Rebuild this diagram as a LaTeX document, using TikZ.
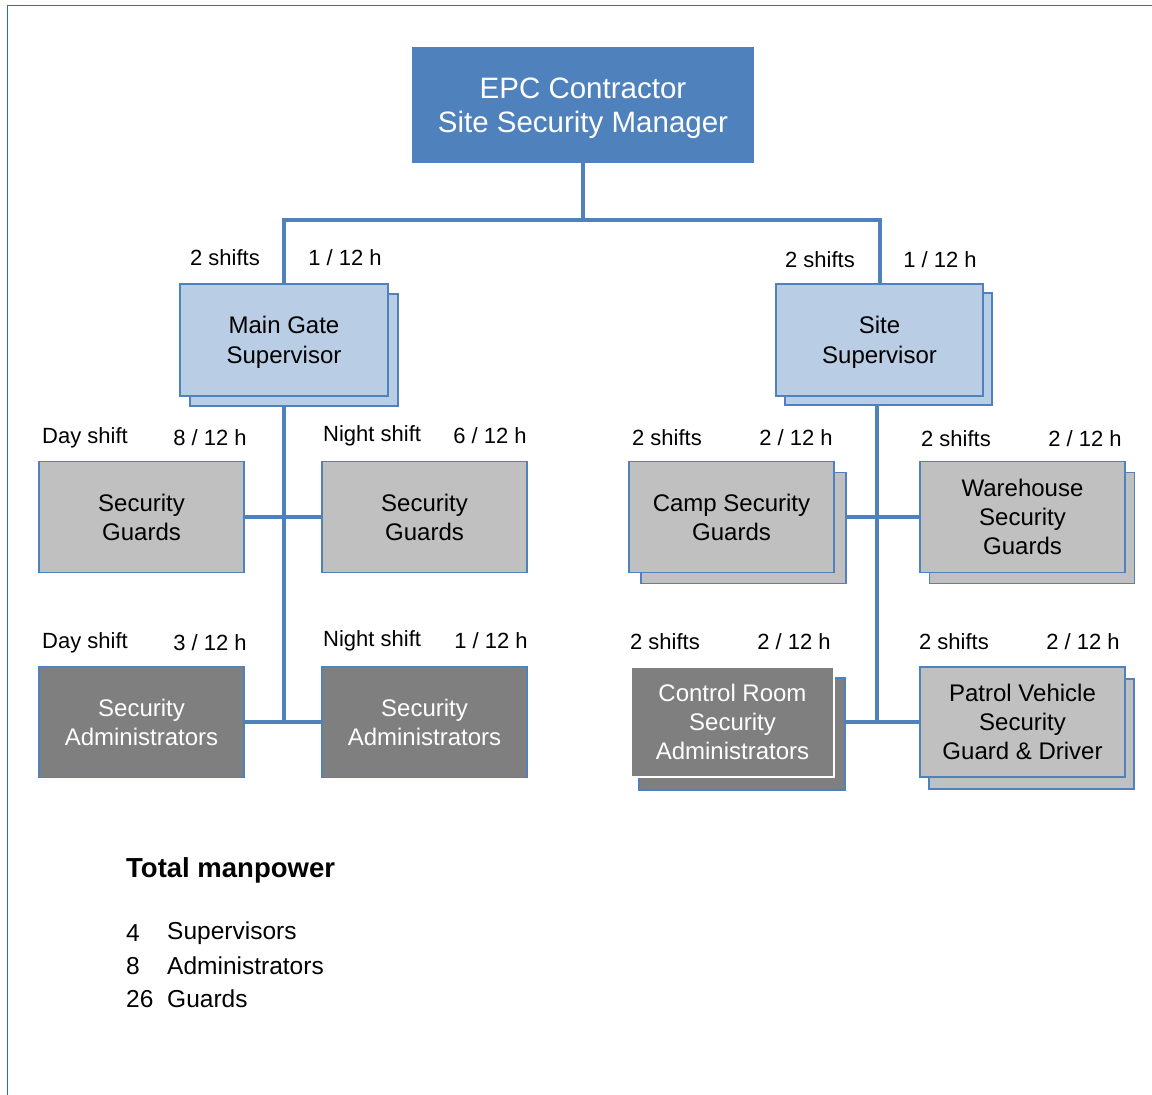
\documentclass[tikz,border=0pt]{standalone}
\usepackage{fontspec}
\setmainfont{Liberation Sans}
\usetikzlibrary{backgrounds}
\definecolor{orgblue}{HTML}{4F81BD}
\definecolor{suplight}{HTML}{B9CDE5}
\definecolor{guardgrey}{HTML}{C0C0C0}
\definecolor{admingrey}{HTML}{7F7F7F}
\definecolor{frameteal}{HTML}{1C7C9C}
\tikzset{
  conn/.style={draw=orgblue, line width=4pt},
  card/.style={rectangle, draw=orgblue, line width=1.5pt, inner sep=0pt, outer sep=0pt, align=center},
  mgrbox/.style={card, fill=orgblue, draw=orgblue, text=white, text depth=0pt, font=\fontsize{29.5}{34}\selectfont},
  supbox/.style={card, fill=suplight, text depth=0pt, font=\fontsize{24}{29.5}\selectfont},
  guardbox/.style={card, fill=guardgrey, font=\fontsize{24}{29}\selectfont},
  adminbox/.style={card, fill=admingrey, text=white, font=\fontsize{24}{29}\selectfont},
  lbl/.style={inner sep=0pt, font=\fontsize{22}{26}\selectfont},
  lst/.style={inner sep=0pt, anchor=west, font=\fontsize{24.5}{28}\selectfont},
}
% box with a second, offset copy behind it
\newcommand{\stackbox}[9]{%
  \node[#8, minimum width=#4pt, minimum height=#5pt] (#1B) at (#2+#6,#3+#7) {};
  \node[#8, minimum width=#4pt, minimum height=#5pt] (#1) at (#2,#3) {#9};
}
\begin{document}
\begin{tikzpicture}[x=1pt,y=-1pt]
\useasboundingbox (0,0) rectangle (1152,1095);
\draw[frameteal, line width=1.6pt] (7.5,1095) -- (7.5,5.5) -- (1152,5.5);

% manager
\node[mgrbox, minimum width=340pt, minimum height=114pt] (mgr) at (583,105) {EPC Contractor\\Site Security Manager};

% supervisors
\stackbox{mgs}{284}{340}{208}{112}{10}{10}{supbox}{Main Gate\\Supervisor}
\stackbox{ss}{879.5}{340}{207}{112}{9}{9}{supbox}{Site\\Supervisor}

% main gate teams
\node[guardbox, minimum width=205pt, minimum height=111pt] (dg) at (141.5,517) {Security\\Guards};
\node[guardbox, minimum width=205pt, minimum height=111pt] (ng) at (424.5,517) {Security\\Guards};
\node[adminbox, minimum width=205pt, minimum height=111pt] (da) at (141.5,722) {Security\\Administrators};
\node[adminbox, minimum width=205pt, minimum height=111pt] (na) at (424.5,722) {Security\\Administrators};

% site teams
\stackbox{camp}{731.5}{517}{205}{111}{12}{11}{guardbox}{Camp Security\\Guards}
\stackbox{wh}{1022.5}{517}{205}{111}{9.5}{11}{guardbox}{Warehouse\\Security\\Guards}
\node[adminbox, minimum width=206pt, minimum height=112pt] (ctrlB) at (742,734) {};
\node[adminbox, draw=white, minimum width=203pt, minimum height=110pt] (ctrl) at (732.5,722) {Control Room\\Security\\Administrators};
\stackbox{pat}{1022.5}{722}{205}{110}{9}{12}{guardbox}{Patrol Vehicle\\Security\\Guard \& Driver}

% connectors, drawn beneath the boxes
\coordinate (jl) at (284,220);
\coordinate (jr) at (879.5,220);
\coordinate (rt) at (877,722);
\begin{pgfonlayer}{background}
  \draw[conn] (mgr.south) -- (mgr.south |- jl);
  \draw[conn] (mgs.north) -- (jl) -- (jr) -- (ss.north);
  \draw[conn] (mgs.south) -- ([yshift=2pt]mgs.south |- da.east);
  \draw[conn] (dg.east) -- (ng.west);
  \draw[conn] (da.east) -- (na.west);
  \draw[conn] (ss.south -| rt) -- ([yshift=2pt]rt);
  \draw[conn] (campB.east |- camp.east) -- (wh.west);
  \draw[conn] (ctrlB.east |- ctrl.east) -- (pat.west);
\end{pgfonlayer}

% shift labels
\node[lbl] (l1) at (225,258) {2 shifts};
\node[lbl] (l2) at (345,258) {1 / 12 h};
\node[lbl] (l3) at (820,260) {2 shifts};
\node[lbl] (l4) at (940,260) {1 / 12 h};

\node[lbl, anchor=west] (l5) at (42,438) {Day shift};
\node[lbl] (l6) at (210,438) {8 / 12 h};
\node[lbl, anchor=west] (l7) at (323,436) {Night shift};
\node[lbl] (l8) at (490,436) {6 / 12 h};
\node[lbl] (l9) at (667,438) {2 shifts};
\node[lbl] (l10) at (796,438) {2 / 12 h};
\node[lbl] (l11) at (956,439) {2 shifts};
\node[lbl] (l12) at (1085,439) {2 / 12 h};

\node[lbl, anchor=west] (l13) at (42,643) {Day shift};
\node[lbl] (l14) at (210,643) {3 / 12 h};
\node[lbl, anchor=west] (l15) at (323,641) {Night shift};
\node[lbl] (l16) at (491,641) {1 / 12 h};
\node[lbl] (l17) at (665,642) {2 shifts};
\node[lbl] (l18) at (794,642) {2 / 12 h};
\node[lbl] (l19) at (954,642) {2 shifts};
\node[lbl] (l20) at (1083,642) {2 / 12 h};

% totals
\node[lst, font=\bfseries\fontsize{27.5}{30}\selectfont] (tot) at (126,870) {Total manpower};
\node[lst] (n1) at (126,933) {4};
\node[lst] (t1) at (167,933) {Supervisors};
\node[lst] (n2) at (126,966) {8};
\node[lst] (t2) at (167,966) {Administrators};
\node[lst] (n3) at (126,999) {26};
\node[lst] (t3) at (167,999) {Guards};
\end{tikzpicture}
\end{document}
